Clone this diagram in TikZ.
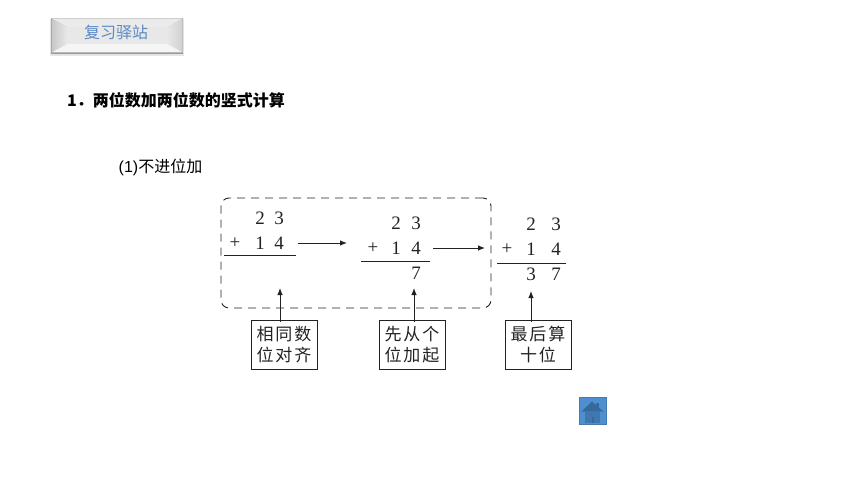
\documentclass[tikz,border=0pt]{standalone}
\usepackage{fontspec}
\usetikzlibrary{arrows.meta}
\setmainfont{Liberation Serif}
\newfontfamily\cjk{Noto Sans CJK SC}
\newfontfamily\latinsans{Liberation Sans}
\definecolor{btnblue}{HTML}{5B8AC4}
\definecolor{homeblue}{HTML}{4F8FD0}
\definecolor{homedark}{HTML}{35699E}
\definecolor{homebody}{HTML}{3F77AE}
\definecolor{inkgray}{HTML}{222222}
\begin{document}
\begin{tikzpicture}[x=1pt,y=-1pt]
    \tikzstyle{digit}=[inner sep=0pt,font=\fontsize{19}{19}\selectfont,text=inkgray]
    \tikzstyle{sumline}=[draw=inkgray,line width=1pt]
    \tikzstyle{arr}=[draw=inkgray,line width=.9pt,-{Latex[length=7pt,width=5.5pt]}]
    \tikzstyle{notebox}=[draw=inkgray,line width=.8pt,minimum width=66pt,minimum height=49pt,inner sep=0pt,align=center,font=\cjk\fontsize{17}{21}\selectfont,text=inkgray]
    \useasboundingbox (0,0) rectangle (860,484);
    % button
    \fill[black!10] (50,19) rectangle (184,56);
    \fill[black!40] (51,18) rectangle (183,54);
    \fill[black!8] (51.5,18.5) -- (182.5,18.5) -- (168,27) -- (67,27) -- cycle;
    \shade[left color=black!22,right color=black!9] (51.5,18.5) -- (67,27) -- (67,44) -- (51.5,52.5) -- cycle;
    \shade[left color=black!10,right color=black!18] (182.5,18.5) -- (168,27) -- (168,44) -- (182.5,52.5) -- cycle;
    \fill[black!4] (51.5,52.5) -- (67,44) -- (168,44) -- (182.5,52.5) -- cycle;
    \fill[black!9] (67,27) rectangle (168,44);
    \node[text=btnblue,inner sep=0pt,font=\cjk\fontsize{16}{16}\selectfont] (btn) at (116,32.5) {复习驿站};
    % titles
    \node[anchor=west,inner sep=0pt,font=\cjk\bfseries\fontsize{16}{16}\selectfont] (title) at (67,100) {1．两位数加两位数的竖式计算};
    \node[anchor=west,inner sep=0pt,font=\fontsize{16}{16}\selectfont] (subtitle) at (118.5,167) {\latinsans(1)\cjk 不进位加};
    % dashed frame
    \node[draw=inkgray,dash pattern=on 8pt off 6pt,line width=.9pt,rounded corners=8pt,minimum width=270pt,minimum height=110pt,inner sep=0pt] (frame) at (356,253) {};
    % first sum
    \node[digit] (a2) at (260,218) {2};
    \node[digit] (a3) at (279,218) {3};
    \node[digit] (aplus) at (235,243) {+};
    \node[digit] (a1) at (260,243) {1};
    \node[digit] (a4) at (279,243) {4};
    \coordinate (aleft) at (224,255.5);
    \coordinate (aright) at (296,255.5);
    \draw[sumline] (aleft) -- (aright);
    % second sum
    \node[digit] (b2) at (396,223) {2};
    \node[digit] (b3) at (416,223) {3};
    \node[digit] (bplus) at (373,248) {+};
    \node[digit] (b1) at (396,248) {1};
    \node[digit] (b4) at (416,248) {4};
    \node[digit] (b7) at (416,273) {7};
    \coordinate (bleft) at (361,261);
    \coordinate (bright) at (430,261);
    \draw[sumline] (bleft) -- (bright);
    % third sum
    \node[digit] (c2) at (531,224) {2};
    \node[digit] (c3) at (556,224) {3};
    \node[digit] (cplus) at (507,249) {+};
    \node[digit] (c1) at (531,249) {1};
    \node[digit] (c4) at (556,249) {4};
    \node[digit] (c33) at (531,274) {3};
    \node[digit] (c7) at (556,274) {7};
    \coordinate (cleft) at (497,263.5);
    \coordinate (cright) at (566,263.5);
    \draw[sumline] (cleft) -- (cright);
    % arrows between the sums
    \coordinate (ab0) at (298,243);
    \coordinate (ab1) at (347,243);
    \coordinate (bc0) at (433,248);
    \coordinate (bc1) at (485,248);
    \draw[arr] (ab0) -- (ab1);
    \draw[arr] (bc0) -- (bc1);
    % note boxes
    \node[notebox] (boxa) at (284,344.5) {相\kern2pt 同\kern2pt 数\\位\kern2pt 对\kern2pt 齐};
    \node[notebox] (boxb) at (412,344.5) {先\kern2pt 从\kern2pt 个\\位\kern2pt 加\kern2pt 起};
    \node[notebox] (boxc) at (538,344.5) {最\kern2pt 后\kern2pt 算\\十\kern2pt 位};
    \coordinate (tipa) at (280,288);
    \coordinate (tipb) at (414,288);
    \coordinate (tipc) at (531,291);
    \draw[arr] ([yshift=-2pt]boxa.north -| tipa) -- (tipa);
    \draw[arr] ([yshift=-2pt]boxb.north -| tipb) -- (tipb);
    \draw[arr] ([yshift=-2pt]boxc.north -| tipc) -- (tipc);
    % home button
    \node[fill=homeblue,draw=homeblue!85!black,line width=.8pt,minimum size=27pt,inner sep=0pt] (home) at (592.5,411) {};
    \fill[homedark] (596,403) rectangle (598.5,408);
    \fill[homedark] (581.5,411.5) -- (592,401.5) -- (603.5,411.5) -- cycle;
    \fill[homebody] (585,411.5) rectangle (600,423);
    \fill[homedark] (592,417) rectangle (593.5,423);
\end{tikzpicture}
\end{document}
